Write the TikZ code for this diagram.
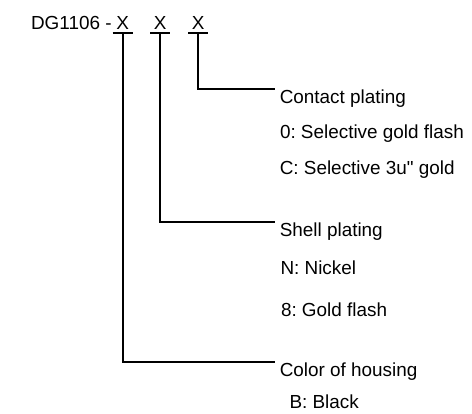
\documentclass[tikz,border=0pt]{standalone}
\usepackage{fontspec}
\setmainfont{Liberation Sans}[Ligatures=TeXOff]
\frenchspacing
\begin{document}
\begin{tikzpicture}[x=1pt,y=-1pt,
  lbl/.style={anchor=base west,inner sep=0pt,font=\fontsize{18.9pt}{22pt}\selectfont},
  conn/.style={line width=2pt,black},
  bar/.style={line width=2.4pt,black}]
\useasboundingbox (0,0) rectangle (472,414);
% part number
\node[lbl,anchor=base east] (dg) at (111.8,29.5) {DG1106 -};
\node[lbl,anchor=base] (x1) at (122.7,29.5) {X};
\node[lbl,anchor=base] (x2) at (160.3,29.5) {X};
\node[lbl,anchor=base] (x3) at (198.3,29.5) {X};
\coordinate (t1) at (122.7,33.3);
\coordinate (t2) at (160.3,33.3);
\coordinate (t3) at (198.3,33.3);
\draw[bar] ([xshift=-10pt]t1) -- ([xshift=10pt]t1);
\draw[bar] ([xshift=-10pt]t2) -- ([xshift=10pt]t2);
\draw[bar] ([xshift=-10pt]t3) -- ([xshift=10pt]t3);
% labels
\node[lbl] (cp) at (279.6,103.5) {Contact plating};
\node[lbl] (c0) at (279.8,139) {0: Selective gold flash};
\node[lbl] (cc) at (279.6,175) {C: Selective 3u" gold};
\node[lbl] (sp) at (279.6,236.5) {Shell plating};
\node[lbl] (sn) at (280.3,275) {N: Nickel};
\node[lbl] (s8) at (280.8,316.7) {8: Gold flash};
\node[lbl] (ch) at (279.6,376.5) {Color of housing};
\node[lbl] (cb) at (289.3,408.3) {B: Black};
% connectors
\draw[conn] (t3) |- ([xshift=-4.6pt,yshift=14pt]cp.base west);
\draw[conn] (t2) |- ([xshift=-4.6pt,yshift=14pt]sp.base west);
\draw[conn] (t1) |- ([xshift=-4.6pt,yshift=14pt]ch.base west);
\end{tikzpicture}
\end{document}
